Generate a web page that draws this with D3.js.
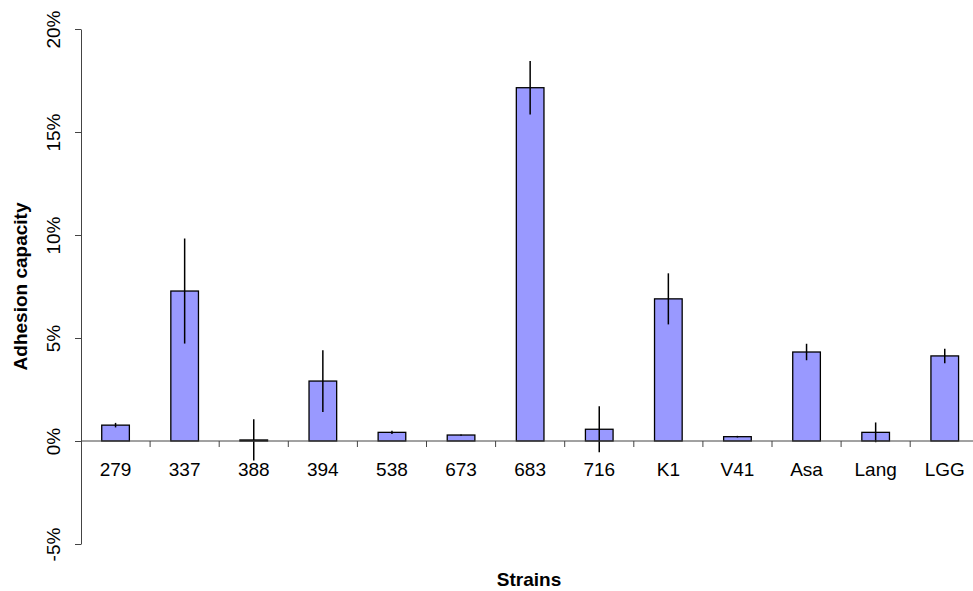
<!DOCTYPE html>
<html>
<head>
<meta charset="utf-8">
<title>Adhesion capacity</title>
<style>
  body { margin: 0; background: #fff; }
  svg { display: block; font-family: "Liberation Sans", Arial, sans-serif; }
</style>
<script src="https://d3js.org/d3.v7.min.js"></script>
</head>
<body>
<script>
// strains and measured adhesion (% of bacteria), with error (+/-)
var strains = ["279", "337", "388", "394", "538", "673", "683", "716", "K1", "V41", "Asa", "Lang", "LGG"];
var adhesion = [0.77, 7.28, 0.05, 2.91, 0.42, 0.29, 17.15, 0.57, 6.9, 0.21, 4.32, 0.42, 4.13];
var errors = [0.11, 2.55, 1.0, 1.5, 0.08, 0.03, 1.3, 1.12, 1.24, 0.04, 0.4, 0.48, 0.35];
var yTicks = [-5, 0, 5, 10, 15, 20];

var w = 973, h = 591;
var plotLeft = 81, plotTop = 29, plotBottom = 544;

var svg = d3.select("body").append("svg")
    .attr("width", w)
    .attr("height", h);

var x = d3.scaleBand()
    .domain(strains)
    .range([plotLeft, plotLeft + strains.length * 69.1])
    .padding(0);

var y = d3.scaleLinear()
    .domain([-5, 20])
    .range([plotBottom, plotTop]);

var barW = x.bandwidth() * 0.4;

// bars
svg.selectAll("rect.bar")
    .data(strains)
    .enter()
    .append("rect")
    .attr("class", "bar")
    .attr("x", function (d) { return x(d) + x.bandwidth() / 2 - barW / 2; })
    .attr("y", function (d, i) { return y(Math.max(0, adhesion[i])); })
    .attr("width", barW)
    .attr("height", function (d, i) { return Math.abs(y(adhesion[i]) - y(0)); })
    .style("fill", "#9999ff")
    .style("stroke", "#000")
    .style("stroke-width", 1.3);

// error bars (no caps)
svg.selectAll("line.err")
    .data(strains)
    .enter()
    .append("line")
    .attr("class", "err")
    .attr("x1", function (d) { return x(d) + x.bandwidth() / 2; })
    .attr("x2", function (d) { return x(d) + x.bandwidth() / 2; })
    .attr("y1", function (d, i) { return y(adhesion[i] + errors[i]); })
    .attr("y2", function (d, i) { return y(adhesion[i] - errors[i]); })
    .style("stroke", "#000")
    .style("stroke-width", 1.5);

// y axis
var yAxis = svg.append("g")
    .attr("transform", "translate(" + plotLeft + ",0)")
    .call(d3.axisLeft(y).tickValues(yTicks).tickSize(6).tickSizeOuter(0).tickFormat(function (d) { return d + "%"; }));
yAxis.select(".domain").attr("stroke", "#444");
yAxis.selectAll(".tick line").attr("stroke", "#444");
yAxis.selectAll(".tick text")
    .attr("x", null)
    .attr("transform", "translate(-21,0) rotate(-90)")
    .attr("text-anchor", "middle")
    .attr("dy", "0")
    .style("font-size", "19px")
    .style("font-family", "Liberation Sans, Arial, sans-serif")
    .attr("fill", "#000");

// x axis at zero: line plus ticks between categories
var xAxis = svg.append("g").attr("transform", "translate(0," + y(0) + ")");
xAxis.append("line")
    .attr("x1", plotLeft).attr("x2", w)
    .attr("stroke", "#444");
xAxis.selectAll("line.tk")
    .data(strains.slice(1))
    .enter()
    .append("line")
    .attr("class", "tk")
    .attr("x1", function (d) { return x(d); })
    .attr("x2", function (d) { return x(d); })
    .attr("y1", 0).attr("y2", 6)
    .attr("stroke", "#444");
xAxis.selectAll("text")
    .data(strains)
    .enter()
    .append("text")
    .attr("x", function (d) { return x(d) + x.bandwidth() / 2; })
    .attr("y", 35)
    .attr("text-anchor", "middle")
    .style("font-size", "19px")
    .text(function (d) { return d; });

// axis titles
svg.append("text")
    .attr("transform", "translate(27," + ((plotTop + plotBottom) / 2) + ") rotate(-90)")
    .attr("text-anchor", "middle")
    .style("font-size", "19px")
    .style("font-weight", "bold")
    .text("Adhesion capacity");

svg.append("text")
    .attr("x", 529)
    .attr("y", 586)
    .attr("text-anchor", "middle")
    .style("font-size", "19px")
    .style("font-weight", "bold")
    .text("Strains");
</script>
</body>
</html>
